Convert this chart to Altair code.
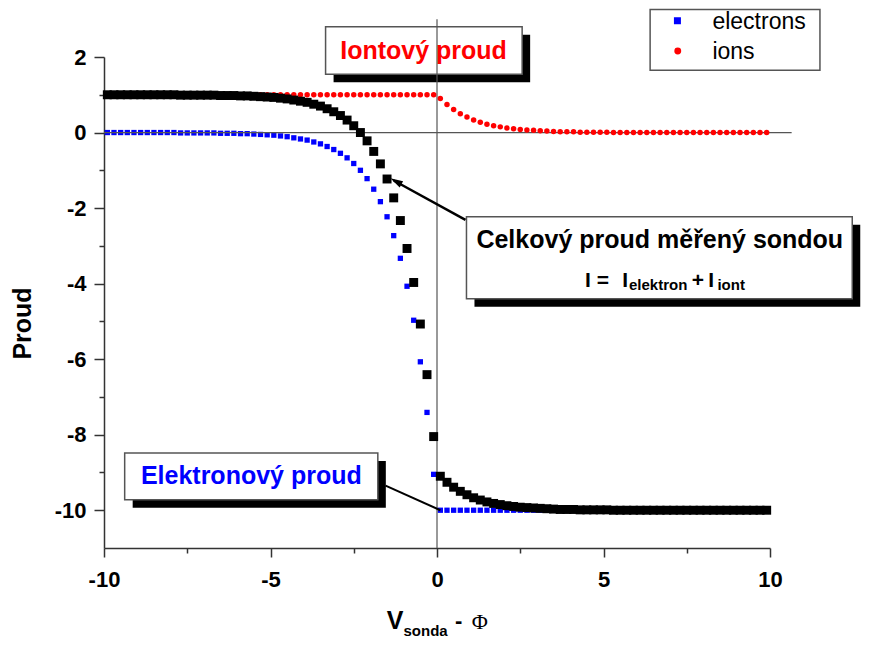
import altair as alt
import pandas as pd

# ---------------- data ----------------
x_vals = [
    -9.9, -9.7, -9.5, -9.3, -9.1, -8.9, -8.7, -8.5, -8.3, -8.1,
    -7.9, -7.7, -7.5, -7.3, -7.1, -6.9, -6.7, -6.5, -6.3, -6.1,
    -5.9, -5.7, -5.5, -5.3, -5.1, -4.9, -4.7, -4.5, -4.3, -4.1,
    -3.9, -3.7, -3.5, -3.3, -3.1, -2.9, -2.7, -2.5, -2.3, -2.1,
    -1.9, -1.7, -1.5, -1.3, -1.1, -0.9, -0.7, -0.5, -0.3, -0.1,
    0.1, 0.3, 0.5, 0.7, 0.9, 1.1, 1.3, 1.5, 1.7, 1.9,
    2.1, 2.3, 2.5, 2.7, 2.9, 3.1, 3.3, 3.5, 3.7, 3.9,
    4.1, 4.3, 4.5, 4.7, 4.9, 5.1, 5.3, 5.5, 5.7, 5.9,
    6.1, 6.3, 6.5, 6.7, 6.9, 7.1, 7.3, 7.5, 7.7, 7.9,
    8.1, 8.3, 8.5, 8.7, 8.9, 9.1, 9.3, 9.5, 9.7, 9.9,
]

electrons = [
    0.00, 0.00, 0.00, 0.00, 0.00, 0.00, 0.00, 0.00, 0.00, 0.00,
    0.00, -0.01, -0.01, -0.01, -0.01, -0.01, -0.01, -0.02, -0.02, -0.02,
    -0.03, -0.03, -0.04, -0.05, -0.06, -0.07, -0.09, -0.11, -0.14, -0.17,
    -0.20, -0.25, -0.30, -0.37, -0.45, -0.55, -0.67, -0.82, -1.00, -1.22,
    -1.50, -1.83, -2.23, -2.73, -3.33, -4.07, -4.97, -6.07, -7.41, -9.05,
    -10.0, -10.0, -10.0, -10.0, -10.0, -10.0, -10.0, -10.0, -10.0, -10.0,
    -10.0, -10.0, -10.0, -10.0, -10.0, -10.0, -10.0, -10.0, -10.0, -10.0,
    -10.0, -10.0, -10.0, -10.0, -10.0, -10.0, -10.0, -10.0, -10.0, -10.0,
    -10.0, -10.0, -10.0, -10.0, -10.0, -10.0, -10.0, -10.0, -10.0, -10.0,
    -10.0, -10.0, -10.0, -10.0, -10.0, -10.0, -10.0, -10.0, -10.0, -10.0,
]

ions = [
    1.00, 1.00, 1.00, 1.00, 1.00, 1.00, 1.00, 1.00, 1.00, 1.00,
    1.00, 1.00, 1.00, 1.00, 1.00, 1.00, 1.00, 1.00, 1.00, 1.00,
    1.00, 1.00, 1.00, 1.00, 1.00, 1.00, 1.00, 1.00, 1.00, 1.00,
    1.00, 1.00, 1.00, 1.00, 1.00, 1.00, 1.00, 1.00, 1.00, 1.00,
    1.00, 1.00, 1.00, 1.00, 1.00, 1.00, 1.00, 1.00, 1.00, 1.00,
    0.90, 0.74, 0.61, 0.50, 0.41, 0.33, 0.27, 0.22, 0.18, 0.15,
    0.12, 0.10, 0.08, 0.07, 0.06, 0.05, 0.04, 0.03, 0.02, 0.02,
    0.02, 0.01, 0.01, 0.01, 0.01, 0.01, 0.00, 0.00, 0.00, 0.00,
    0.00, 0.00, 0.00, 0.00, 0.00, 0.00, 0.00, 0.00, 0.00, 0.00,
    0.00, 0.00, 0.00, 0.00, 0.00, 0.00, 0.00, 0.00, 0.00, 0.00,
]

total = [
    1.00, 1.00, 1.00, 1.00, 1.00, 1.00, 1.00, 1.00, 1.00, 1.00,
    1.00, 0.99, 0.99, 0.99, 0.99, 0.99, 0.99, 0.98, 0.98, 0.98,
    0.97, 0.97, 0.96, 0.95, 0.94, 0.93, 0.91, 0.89, 0.86, 0.83,
    0.80, 0.75, 0.70, 0.63, 0.55, 0.45, 0.33, 0.18, 0.00, -0.22,
    -0.50, -0.83, -1.23, -1.73, -2.33, -3.07, -3.97, -5.07, -6.41, -8.05,
    -9.10, -9.26, -9.39, -9.50, -9.59, -9.67, -9.73, -9.78, -9.82, -9.85,
    -9.88, -9.90, -9.92, -9.93, -9.94, -9.95, -9.96, -9.97, -9.98, -9.98,
    -9.98, -9.99, -9.99, -9.99, -9.99, -9.99, -10.0, -10.0, -10.0, -10.0,
    -10.0, -10.0, -10.0, -10.0, -10.0, -10.0, -10.0, -10.0, -10.0, -10.0,
    -10.0, -10.0, -10.0, -10.0, -10.0, -10.0, -10.0, -10.0, -10.0, -10.0,
]

x_ticks = [-10, -7.5, -5, -2.5, 0, 2.5, 5, 7.5, 10]
y_ticks = [2, 1, 0, -1, -2, -3, -4, -5, -6, -7, -8, -9, -10]

legend_labels = ["electrons", "ions"]

df = pd.DataFrame({"x": x_vals, "electrons": electrons, "ions": ions, "total": total})

# ---------------- scales & axes ----------------
FONT = "Liberation Sans"
xs = alt.Scale(domain=[-10, 10], nice=False, zero=False)
ys = alt.Scale(domain=[-11, 2], nice=False, zero=False)

x_axis = alt.Axis(
    values=x_ticks,
    labelExpr="datum.value % 5 == 0 ? '' + datum.value : ''",
    tickSize={"condition": {"test": "datum.value % 5 == 0", "value": 9}, "value": 5},
    tickColor="#333", tickWidth=1.5, domainColor="#333", domainWidth=1.5,
    labelFont=FONT, labelFontSize=22, labelFontWeight="bold", labelColor="black",
    labelPadding=12, labelOverlap=False, labelFlush=False, grid=False, title=None,
)
y_axis = alt.Axis(
    values=y_ticks,
    labelExpr="datum.value % 2 == 0 ? '' + datum.value : ''",
    tickSize={"condition": {"test": "datum.value % 2 == 0", "value": 10}, "value": 5},
    tickColor="#333", tickWidth=1.5, domainColor="#333", domainWidth=1.5,
    labelFont=FONT, labelFontSize=22, labelFontWeight="bold", labelColor="black",
    labelPadding=8, labelOverlap=False, labelFlush=False, grid=False,
    title="Proud", titleFont=FONT, titleFontSize=25, titleFontWeight="bold",
    titleColor="black", titleX=-82, titleY=266, titleAngle=270,
    titleAlign="center", titleBaseline="middle",
)


def X(f):
    return alt.X(f, type="quantitative", scale=xs, axis=x_axis)


def Y(f):
    return alt.Y(f, type="quantitative", scale=ys, axis=y_axis)


base = alt.Chart(df)

# ---------------- annotation boxes ----------------
boxes = pd.DataFrame({
    "x1": [-3.346, 0.885, -9.379],
    "x2": [2.557, 12.47, -1.777],
    "y1": [2.80, -2.232, -8.488],
    "y2": [1.546, -4.403, -9.725],
})
shadow = alt.Chart(boxes).mark_rect(
    color="black", xOffset=8, x2Offset=8, yOffset=8, y2Offset=8
).encode(x=X("x1"), x2="x2", y=Y("y1"), y2="y2")
box = alt.Chart(boxes).mark_rect(
    fill="white", stroke="#555", strokeWidth=1.5
).encode(x=X("x1"), x2="x2", y=Y("y1"), y2="y2")

legend_box_df = pd.DataFrame({"x1": [6.40], "x2": [11.50], "y1": [3.26], "y2": [1.65]})
legend_box = alt.Chart(legend_box_df).mark_rect(
    fill="white", stroke="#555", strokeWidth=1.5
).encode(x=X("x1"), x2="x2", y=Y("y1"), y2="y2")

# ---------------- zero lines ----------------
vline = alt.Chart(pd.DataFrame({"x": [0], "y1": [-11], "y2": [3.0]})).mark_rule(
    color="#555", strokeWidth=1.2
).encode(x=X("x"), y=Y("y1"), y2="y2")
hline = alt.Chart(pd.DataFrame({"y": [0], "x1": [-10], "x2": [10.65]})).mark_rule(
    color="#555", strokeWidth=1.2
).encode(y=Y("y"), x=X("x1"), x2="x2")

# ---------------- data points ----------------
blue = base.mark_point(shape="square", filled=True, size=28, color="#0000ff", opacity=1).encode(
    x=X("x"), y=Y("electrons")
)
red = base.mark_point(shape="circle", filled=True, size=30, color="#ff0000", opacity=1).encode(
    x=X("x"), y=Y("ions")
)
black = base.mark_point(shape="square", filled=True, size=80, color="black", opacity=1).encode(
    x=X("x"), y=Y("total")
)


# ---------------- texts ----------------
def txt(s, x, y, color="black", size=25, weight="bold", align="center", font=FONT):
    return alt.Chart(pd.DataFrame({"x": [x], "y": [y]})).mark_text(
        text=s, font=font, fontSize=size, fontWeight=weight, color=color,
        align=align, baseline="alphabetic"
    ).encode(x=X("x"), y=Y("y"))


t_ion = txt("Iontový proud", -0.405, 1.94, color="#ff0000")
t_ele = txt("Elektronový proud", -5.576, -9.31, color="#0000ff")
t_c1 = txt("Celkový proud měřený sondou", 6.69, -3.045)
t_c2 = [
    txt("I", 4.444, -4.085, size=21, align="left"),
    txt("=", 4.796, -4.085, size=21, align="left"),
    txt("I", 5.565, -4.085, size=21, align="left"),
    txt("elektron", 5.765, -4.173, size=15, align="left"),
    txt("+", 7.649, -4.085, size=21, align="left"),
    txt("I", 8.147, -4.085, size=21, align="left"),
    txt("iont", 8.42, -4.173, size=15, align="left"),
]

# legend content
leg_sq = alt.Chart(pd.DataFrame({"x": [7.22], "y": [2.96]})).mark_point(
    shape="square", filled=True, size=49, color="#0000ff", opacity=1
).encode(x=X("x"), y=Y("y"))
leg_ci = alt.Chart(pd.DataFrame({"x": [7.23], "y": [2.16]})).mark_point(
    shape="circle", filled=True, size=47, color="#ff0000", opacity=1
).encode(x=X("x"), y=Y("y"))
leg_t1 = txt(legend_labels[0], 8.27, 2.74, size=23, weight="normal", align="left")
leg_t2 = txt(legend_labels[1], 8.27, 1.94, size=23, weight="normal", align="left")


# x axis title with subscript (pixel positions relative to plot area)
def ptxt(s, px, py, size, weight="bold", font=FONT):
    return alt.Chart(pd.DataFrame({"a": [0]})).mark_text(
        text=s, font=font, fontSize=size, fontWeight=weight, color="black",
        align="left", baseline="alphabetic"
    ).encode(x=alt.value(px), y=alt.value(py))


xt_v = ptxt("V", 282.7, 572, 25)
xt_s = ptxt("sonda", 299.5, 579, 15)
xt_m = ptxt("-", 351, 571, 22)
xt_f = ptxt("Φ", 367.7, 572, 22, weight="normal", font="Liberation Serif")

# ---------------- arrows ----------------
arrow_line = alt.Chart(pd.DataFrame({"x1": [0.855], "y1": [-2.31], "x2": [-1.30], "y2": [-1.27]})).mark_rule(
    color="black", strokeWidth=2.5
).encode(x=X("x1"), y=Y("y1"), x2="x2", y2="y2")
arrow_head = alt.Chart(pd.DataFrame({"x": [-1.40], "y": [-1.21]})).mark_point(
    shape="M0,0L1,3.6L-1,3.6Z", angle=299, size=49, filled=True, color="black", opacity=1
).encode(x=X("x"), y=Y("y"))
ele_line = alt.Chart(pd.DataFrame({"x1": [-1.545], "y1": [-9.35], "x2": [0.1], "y2": [-10.0]})).mark_rule(
    color="black", strokeWidth=2
).encode(x=X("x1"), y=Y("y1"), x2="x2", y2="y2")

chart = alt.layer(
    blue, shadow, box, legend_box, vline, hline, red, black,
    t_ion, t_ele, t_c1, *t_c2,
    leg_sq, leg_ci, leg_t1, leg_t2,
    xt_v, xt_s, xt_m, xt_f,
    arrow_line, arrow_head, ele_line,
).properties(
    width=666, height=491,
    autosize=alt.AutoSizeParams(type="none"),
    padding={"left": 96, "top": 49, "right": 93, "bottom": 92},
).configure(font=FONT, background="white").configure_view(strokeWidth=0)

chart.save("out.html", embed_options={"renderer": "svg", "actions": False})
